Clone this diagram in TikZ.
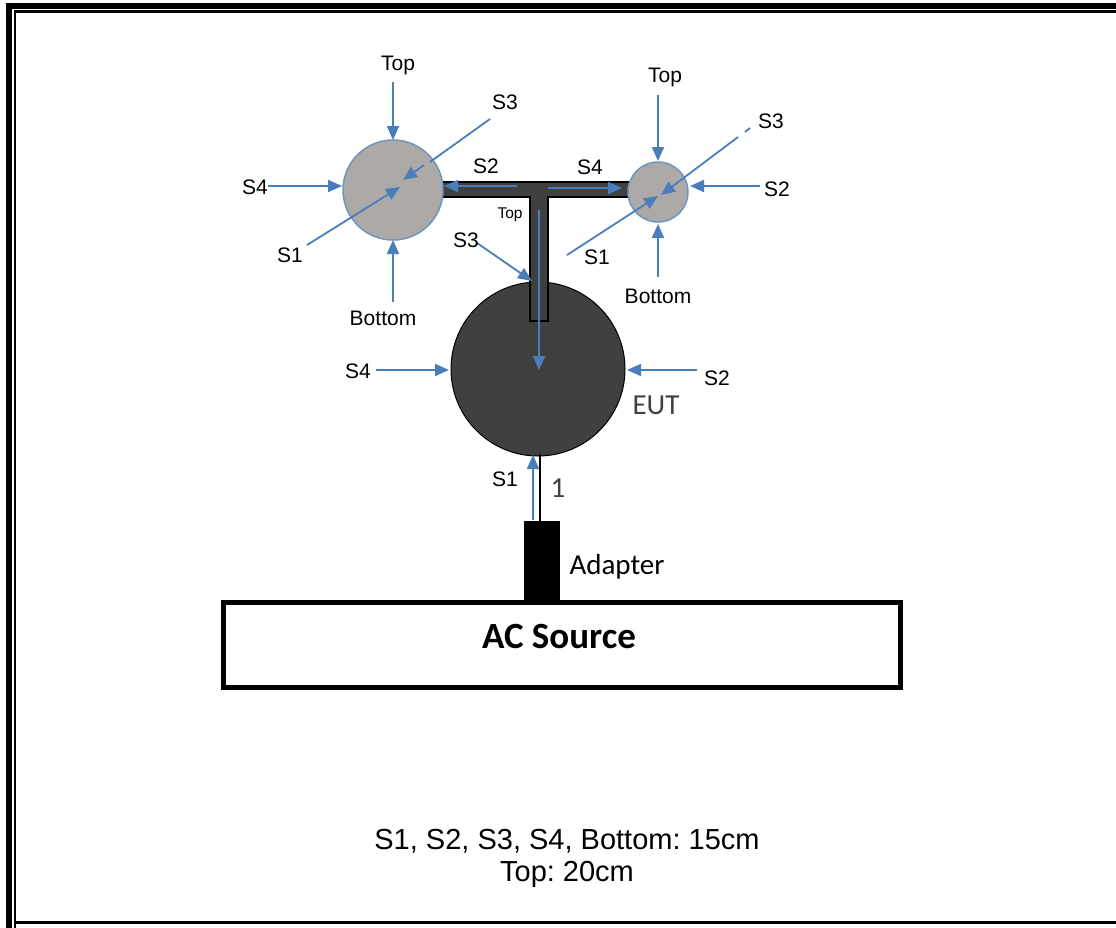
\documentclass[tikz,border=0pt]{standalone}
\usepackage{fontspec}
\setmainfont{Liberation Sans}
\newfontfamily\calibrifont{Carlito}
\usetikzlibrary{arrows.meta}
\definecolor{arrowblue}{HTML}{4A7EBB}
\definecolor{circgray}{HTML}{ADA9A7}
\definecolor{circedge}{HTML}{7196BE}
\definecolor{darkfill}{HTML}{404040}
\definecolor{euttext}{HTML}{404040}
\tikzset{
  blu/.style={draw=arrowblue, line width=1.8pt, -{Triangle[length=14pt,width=12pt]}},
  bline/.style={draw=arrowblue, line width=1.8pt},
  lbl/.style={font=\fontsize{21}{25}\selectfont, inner sep=0pt},
  smalllbl/.style={font=\fontsize{15.5}{18}\selectfont, inner sep=0pt},
  callbl/.style={font=\calibrifont\fontsize{29}{34}\selectfont, inner sep=0pt},
  probe/.style={circle, fill=circgray, draw=circedge, line width=1.5pt, inner sep=0pt},
}
\frenchspacing
\begin{document}
\frenchspacing
\begin{tikzpicture}[x=1pt,y=-1pt]
\clip (0,0) rectangle (1116,927);
\fill[white] (0,0) rectangle (1116,927);
% frame
\draw[line width=6pt] (9,960) -- (9,6) -- (1140,6);
\draw[line width=2.5pt] (15,960) -- (15,11.5) -- (1140,11.5);
\draw[line width=2.5pt] (15,922.5) -- (1140,922.5);
% EUT
\node[circle, minimum size=174pt, fill=darkfill, draw=black, line width=1pt, inner sep=0pt] (eut) at (538,369) {};
% T bar
\draw[fill=darkfill, draw=black, line width=1.2pt]
  (425,182) -- (645,182) -- (645,197) -- (548,197) -- (548,321) -- (530,321) -- (530,197) -- (425,197) -- cycle;
% probes
\node[probe, minimum size=100pt] (cL) at (393,190) {};
\node[probe, minimum size=60pt] (cR) at (658,192) {};
% adapter and AC source
\node[rectangle, fill=black, minimum width=36pt, minimum height=82pt, inner sep=0pt] (adapter) at (542,562) {};
\draw[line width=2.5pt] (adapter.north -| 540,0) -- (540,454);
\node[draw=black, line width=5pt, minimum width=677pt, minimum height=85pt, inner sep=0pt] (ac) at (561.5,644.5) {};
\node[font=\calibrifont\bfseries\fontsize{37}{44}\selectfont, inner sep=0pt] (actext) at (559,636) {AC Source};
\node[callbl] (adtext) at (617,567) {Adapter};
\node[callbl, text=euttext] (euttext) at (656,405) {EUT};
\node[callbl, text=euttext] (one) at (558,488) {1};

% coordinates
\coordinate (aLtop) at (393,82);   \coordinate (aLtopE) at (393,140);
\coordinate (aLbot) at (393,302);  \coordinate (aLbotE) at (393,240);
\coordinate (aLs4) at (268,186);   \coordinate (aLs4E) at (342,186);
\coordinate (aLs2) at (517,186);   \coordinate (aLs2E) at (444,186);
\coordinate (aLs3) at (490,119);   \coordinate (aLs3m) at (430,162);
\coordinate (aLs3n) at (424,165);  \coordinate (aLs3E) at (403,180);
\coordinate (aLs1) at (307,245);   \coordinate (aLs1E) at (400,187);
\coordinate (aRtop) at (658,95);   \coordinate (aRtopE) at (658,161);
\coordinate (aRbot) at (658,277);  \coordinate (aRbotE) at (658,224);
\coordinate (aRs2) at (760,186);   \coordinate (aRs2E) at (690,186);
\coordinate (aRs3a) at (750,128);  \coordinate (aRs3b) at (745,132);
\coordinate (aRs3) at (738,137);   \coordinate (aRs3E) at (661,195);
\coordinate (aRs1) at (567,255);   \coordinate (aRs1E) at (658,196);
\coordinate (aBs4) at (548,188);   \coordinate (aBs4E) at (622,188);
\coordinate (aV) at (539,210);     \coordinate (aVE) at (539,370);
\coordinate (aBs3) at (477,243);   \coordinate (aBs3E) at (532,281);
\coordinate (aEs4) at (376,370);   \coordinate (aEs4E) at (449,370);
\coordinate (aEs2) at (697,370);   \coordinate (aEs2E) at (627,370);
\coordinate (aEs1) at (533,520);   \coordinate (aEs1E) at (533,455);

% arrows
\draw[blu] (aLtop) -- (aLtopE);
\draw[blu] (aLbot) -- (aLbotE);
\draw[blu] (aLs4) -- (aLs4E);
\draw[blu] (aLs2) -- (aLs2E);
\draw[bline] (aLs3) -- (aLs3m);
\draw[blu] (aLs3n) -- (aLs3E);
\draw[blu] (aLs1) -- (aLs1E);
\draw[blu] (aRtop) -- (aRtopE);
\draw[blu] (aRbot) -- (aRbotE);
\draw[blu] (aRs2) -- (aRs2E);
\draw[bline] (aRs3a) -- (aRs3b);
\draw[blu] (aRs3) -- (aRs3E);
\draw[blu] (aRs1) -- (aRs1E);
\draw[blu] (aBs4) -- (aBs4E);
\draw[blu] (aV) -- (aVE);
\draw[blu] (aBs3) -- (aBs3E);
\draw[blu] (aEs4) -- (aEs4E);
\draw[blu] (aEs2) -- (aEs2E);
\draw[blu] (aEs1) -- (aEs1E);

% labels
\node[lbl] (lLtop) at (398,65) {Top};
\node[lbl] (lLs3) at (505,102) {S3};
\node[lbl] (lLs2) at (486,166) {S2};
\node[lbl] (lLs4) at (255,187) {S4};
\node[lbl] (lLs1) at (290,255) {S1};
\node[lbl] (lLbot) at (383,318) {Bottom};
\node[smalllbl] (lBtop) at (510,215) {Top};
\node[lbl] (lBs3) at (466,240) {S3};
\node[lbl] (lBs4) at (590,167) {S4};
\node[lbl] (lRtop) at (665,77) {Top};
\node[lbl] (lRs3) at (771,121) {S3};
\node[lbl] (lRs2) at (777,189) {S2};
\node[lbl] (lRs1) at (597,257) {S1};
\node[lbl] (lRbot) at (658,296) {Bottom};
\node[lbl] (lEs4) at (358,371) {S4};
\node[lbl] (lEs2) at (717,378) {S2};
\node[lbl] (lEs1) at (505,479) {S1};
\node[font=\fontsize{29}{34}\selectfont, inner sep=0pt, align=center] (note) at (567,858) {S1, S2, S3, S4, Bottom: 15cm\\[-2pt]Top: 20cm};
\end{tikzpicture}
\end{document}
